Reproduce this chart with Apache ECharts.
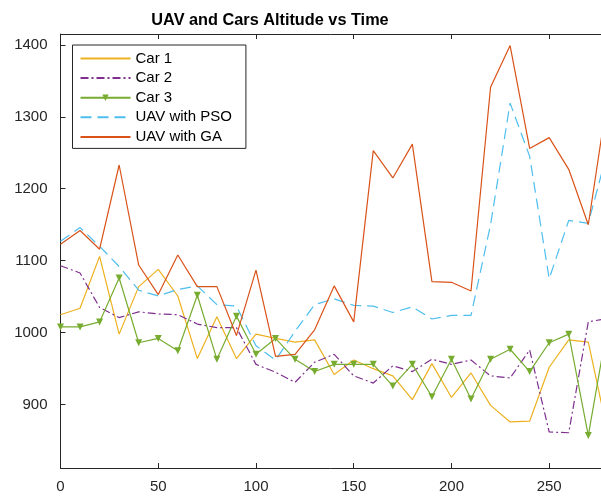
<!DOCTYPE html>
<html>
<head>
<meta charset="utf-8">
<script src="https://cdn.jsdelivr.net/npm/echarts@6/dist/echarts.min.js"></script>
<style>
  html, body { margin: 0; padding: 0; background: #fff; }
</style>
</head>
<body>
<div id="altChart" style="width:601px;height:496px"></div>
<script>
// time steps (s)
const time = [0, 10, 20, 30, 40, 50, 60, 70, 80, 90, 100, 110, 120, 130, 140,
  150, 160, 170, 180, 190, 200, 210, 220, 230, 240, 250, 260, 270, 280];

const car1 = [1025, 1034, 1106, 998, 1064, 1088, 1051, 964, 1022, 964, 998, 992, 987, 990, 942,
  962, 950, 940, 907, 957, 910, 944, 899, 876, 877, 952, 990, 987, 860];
const car2 = [1093, 1083, 1035, 1021, 1029, 1026, 1025, 1012, 1007, 1007, 956, 945, 931, 959, 970,
  940, 930, 954, 946, 963, 956, 962, 940, 937, 976, 862, 861, 1015, 1020];
const car3 = [1008, 1008, 1015, 1076, 986, 992, 975, 1052, 963, 1023, 970, 992, 963, 946, 956,
  956, 956, 926, 956, 911, 963, 908, 963, 977, 946, 986, 998, 857, 1012];
const uavPSO = [1127, 1146, 1120, 1092, 1059, 1051, 1060, 1065, 1039, 1037, 982, 962, 1002, 1039, 1047,
  1038, 1037, 1028, 1036, 1019, 1024, 1024, 1150, 1319, 1245, 1075, 1156, 1152, 1254];
const uavGA = [1123, 1142, 1116, 1233, 1094, 1053, 1108, 1064, 1064, 996, 1087, 967, 970, 1004, 1065,
  1015, 1253, 1215, 1262, 1071, 1070, 1058, 1341, 1399, 1256, 1271, 1227, 1150, 1330];

const yTicks = [900, 1000, 1100, 1200, 1300, 1400];

function pairs(ys) {
  return time.map((t, i) => [t, ys[i]]);
}

const axisColor = '#262626';
const fontName = 'Liberation Sans';
// plain line in the legend, no marker
const noMarker = { opacity: 0 };

let option = {
  animation: false,
  backgroundColor: '#fff',
  title: {
    text: 'UAV and Cars Altitude vs Time',
    left: 265,
    top: 8,
    textAlign: 'center',
    textStyle: {
      fontFamily: fontName,
      fontSize: 16.3,
      fontWeight: 'bold',
      color: '#000'
    }
  },
  grid: {
    left: 60.5,
    right: 0,
    top: 34,
    bottom: 28
  },
  legend: {
    orient: 'vertical',
    left: 72.5,
    top: 45,
    padding: [6, 14, 4, 7],
    itemWidth: 50,
    itemHeight: 8,
    itemGap: 4.6,
    backgroundColor: '#fff',
    borderColor: axisColor,
    borderWidth: 1,
    borderRadius: 0,
    textStyle: {
      fontFamily: fontName,
      fontSize: 15,
      color: '#000'
    },
    data: [
      { name: 'Car 1', itemStyle: noMarker },
      { name: 'Car 2', itemStyle: noMarker },
      { name: 'Car 3' },
      { name: 'UAV with PSO', itemStyle: noMarker },
      { name: 'UAV with GA', itemStyle: noMarker }
    ]
  },
  xAxis: [
    {
      type: 'value',
      min: 0,
      max: 276.5,
      interval: 50,
      axisLine: { lineStyle: { color: axisColor, width: 1 } },
      axisTick: { inside: true, length: 5, lineStyle: { color: axisColor } },
      axisLabel: {
        margin: 11,
        fontFamily: fontName,
        fontSize: 15,
        color: axisColor,
        showMaxLabel: false
      },
      splitLine: { show: false }
    },
    {
      type: 'value',
      position: 'top',
      min: 0,
      max: 276.5,
      interval: 50,
      axisLine: { lineStyle: { color: axisColor, width: 1 } },
      axisTick: { inside: true, length: 5, lineStyle: { color: axisColor } },
      axisLabel: { show: false },
      splitLine: { show: false }
    }
  ],
  yAxis: {
    type: 'value',
    min: 812,
    max: 1415,
    axisLine: { show: true, lineStyle: { color: axisColor, width: 1 } },
    axisTick: {
      inside: true,
      length: 5,
      customValues: yTicks,
      lineStyle: { color: axisColor }
    },
    axisLabel: {
      margin: 13,
      customValues: yTicks,
      formatter: (v) => String(v),
      fontFamily: fontName,
      fontSize: 15,
      color: axisColor
    },
    splitLine: { show: false }
  },
  series: [
    {
      name: 'Car 1',
      type: 'line',
      symbol: 'none',
      color: '#EDB120',
      lineStyle: { color: '#EDB120', width: 1.2 },
      data: pairs(car1)
    },
    {
      name: 'Car 2',
      type: 'line',
      symbol: 'none',
      color: '#7E2F8E',
      lineStyle: { color: '#7E2F8E', width: 1.2, type: [8, 3, 2, 3] },
      data: pairs(car2)
    },
    {
      name: 'Car 3',
      type: 'line',
      symbol: 'triangle',
      symbolSize: 7,
      symbolRotate: 180,
      showAllSymbol: true,
      color: '#77AC30',
      itemStyle: { color: '#77AC30' },
      lineStyle: { color: '#77AC30', width: 1.2 },
      data: pairs(car3)
    },
    {
      name: 'UAV with PSO',
      type: 'line',
      symbol: 'none',
      color: '#4DBEEE',
      lineStyle: { color: '#4DBEEE', width: 1.2, type: [11, 6] },
      data: pairs(uavPSO)
    },
    {
      name: 'UAV with GA',
      type: 'line',
      symbol: 'none',
      color: '#D95319',
      lineStyle: { color: '#D95319', width: 1.2 },
      data: pairs(uavGA)
    }
  ]
};

const chart = echarts.init(document.getElementById('altChart'));
chart.setOption(option);
</script>
</body>
</html>
